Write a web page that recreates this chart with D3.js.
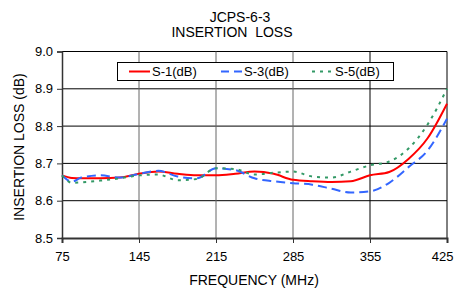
<!DOCTYPE html>
<html><head><meta charset="utf-8">
<script src="https://cdn.jsdelivr.net/npm/d3@7"></script>
<style>body{margin:0;background:#fff;}svg{display:block;font-family:"Liberation Sans",Arial,sans-serif;}</style>
</head><body>
<svg id="c" width="454" height="290"></svg>
<script>
const freq = [75,84,92.5,110,127.5,145,162.5,180,197.5,215,232.5,250,267.5,285,302.5,320,337.5,355,372.5,390,407.5,425];
const s1 = [8.668,8.661,8.660,8.660,8.662,8.672,8.678,8.672,8.668,8.668,8.672,8.678,8.672,8.656,8.652,8.650,8.652,8.668,8.677,8.712,8.768,8.860];
const s3 = [8.668,8.651,8.662,8.668,8.662,8.672,8.680,8.665,8.660,8.687,8.682,8.660,8.652,8.647,8.643,8.632,8.622,8.625,8.648,8.690,8.735,8.820];
const s5 = [8.668,8.648,8.649,8.654,8.660,8.668,8.670,8.655,8.658,8.687,8.685,8.670,8.675,8.678,8.665,8.662,8.678,8.695,8.705,8.740,8.805,8.900];
const xTicks = [75,145,215,285,355,425];
const yTicks = [8.5,8.6,8.7,8.8,8.9,9.0];
const seriesNames = ["S-1(dB)","S-3(dB)","S-5(dB)"];
const colors = ["#ff0000","#3366ff","#339966"];
const dashes = [null,"9,5","3,5"];

const svg = d3.select("#c");
const L=62,R=447,T=51.5,B=238;
const x = d3.scaleLinear().domain([75,425]).range([L,R]);
const y = d3.scaleLinear().domain([8.5,9.0]).range([B,T]);

svg.append("g").selectAll("line").data(yTicks.filter(d=>d>8.5)).join("line")
  .attr("x1",L).attr("x2",R).attr("y1",d=>y(d)).attr("y2",d=>y(d))
  .attr("stroke","#000").attr("stroke-width",1);
svg.append("g").selectAll("line").data(xTicks.slice(1)).join("line")
  .attr("x1",d=>x(d)).attr("x2",d=>x(d)).attr("y1",T).attr("y2",B)
  .attr("stroke",(d,i)=>i>=xTicks.length-3?"#000":"#666").attr("stroke-width",1);

const ax = svg.append("g").attr("transform",`translate(0,${B})`)
  .call(d3.axisBottom(x).tickValues(xTicks).tickSize(5).tickPadding(9).tickFormat(d3.format("d")));
ax.select(".domain").attr("stroke","#333").attr("stroke-width",2);
ax.selectAll(".tick line").attr("stroke","#333");
ax.selectAll("text").attr("font-size",13).attr("fill","#000").attr("font-family","Liberation Sans, Arial, sans-serif");
// keep the last label inside the window
ax.selectAll(".tick").filter(d=>d===425).select("text").attr("text-anchor","end").attr("x",6);

const ay = svg.append("g").attr("transform",`translate(${L},0)`)
  .call(d3.axisLeft(y).tickValues(yTicks).tickSize(5).tickPadding(4).tickFormat(d3.format(".1f")));
ay.select(".domain").attr("stroke","#333").attr("stroke-width",1.5);
ay.selectAll(".tick line").attr("stroke","#333");
ay.selectAll("text").attr("font-size",13).attr("fill","#000").attr("font-family","Liberation Sans, Arial, sans-serif");

const line = d3.line().x((d,i)=>x(freq[i])).y(d=>y(d)).curve(d3.curveMonotoneX);
[s1,s3,s5].forEach((s,i)=>{
  svg.append("path").datum(s).attr("d",line).attr("fill","none")
    .attr("stroke",colors[i]).attr("stroke-width",2)
    .attr("stroke-dasharray",dashes[i]);
});

const lg = svg.append("g");
lg.append("rect").attr("x",117.5).attr("y",62.5).attr("width",276).attr("height",18)
  .attr("fill","#fff").attr("stroke","#000").attr("stroke-width",1);
const lx = [129,221,312];
seriesNames.forEach((n,i)=>{
  lg.append("line").attr("x1",lx[i]).attr("x2",lx[i]+21).attr("y1",71.5).attr("y2",71.5)
    .attr("stroke",colors[i]).attr("stroke-width",2).attr("stroke-dasharray",dashes[i]==="9,5"?"8,5":dashes[i]);
  lg.append("text").attr("x",lx[i]+23).attr("y",76).attr("font-size",13).text(n);
});

svg.append("text").attr("x",240).attr("y",22).attr("text-anchor","middle").attr("font-size",14).text("JCPS-6-3");
svg.append("text").attr("x",232).attr("y",37).attr("text-anchor","middle").attr("font-size",14).attr("xml:space","preserve").text("INSERTION  LOSS");
svg.append("text").attr("x",254).attr("y",285).attr("text-anchor","middle").attr("font-size",14).text("FREQUENCY (MHz)");
svg.append("text").attr("transform","translate(24,147) rotate(-90)").attr("text-anchor","middle").attr("font-size",14).text("INSERTION LOSS (dB)");
</script>
</body></html>
